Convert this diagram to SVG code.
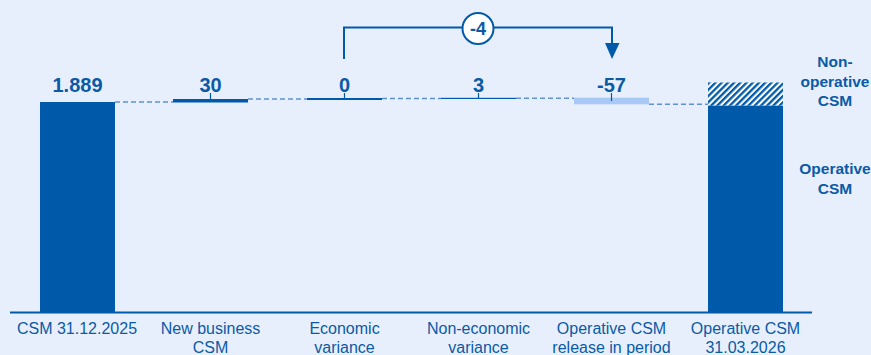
<svg xmlns="http://www.w3.org/2000/svg" width="871" height="355" viewBox="0 0 871 355">
<defs>
<pattern id="hatch" patternUnits="userSpaceOnUse" width="4.4" height="4.4" patternTransform="rotate(45)">
<rect width="4.4" height="4.4" fill="#ffffff"/>
<rect width="2.3" height="4.4" fill="#005AA9"/>
</pattern>
<style>
.bar{fill:#005AA9}
.val{font-family:"Liberation Sans",Arial,sans-serif;font-weight:bold;font-size:20px;fill:#0A5AA6;text-anchor:middle}
.lbl{font-family:"Liberation Sans",Arial,sans-serif;font-size:16px;fill:#0A5AA6;text-anchor:middle}
.side{font-family:"Liberation Sans",Arial,sans-serif;font-weight:bold;font-size:15.5px;fill:#0A5AA6;text-anchor:middle}
.dash{stroke:#5F92D0;stroke-width:1.6;stroke-dasharray:5,3;fill:none}
.tick{stroke:#005AA9;stroke-width:1.2}
.conn{stroke:#005AA9;stroke-width:2;fill:none}
</style>
</defs>
<rect width="871" height="355" fill="#E8EFFC"/>
<g id="connectors">
<line class="dash" x1="115" y1="102" x2="173" y2="102"/>
<line class="dash" x1="248" y1="99" x2="307" y2="99"/>
<line class="dash" x1="382" y1="98.5" x2="441" y2="98.5"/>
<line class="dash" x1="516" y1="98.3" x2="574" y2="98.3"/>
<line class="dash" x1="649" y1="104.3" x2="708" y2="104.3"/>
<polyline class="conn" points="344,59 344,27.5 612,27.5 612,44"/>
<polygon points="605,43 619.5,43 612,59" fill="#005AA9"/>
</g>
<g id="axis">
<line x1="10" y1="312.5" x2="812" y2="312.5" stroke="#005AA9" stroke-width="2"/>
</g>
<g id="bar-csm-2025">
<rect class="bar" x="40" y="102" width="75" height="210"/>
<text class="val" x="77.5" y="91.5">1.889</text>
<text class="lbl" x="77" y="334">CSM 31.12.2025</text>
</g>
<g id="bar-new-business">
<rect class="bar" x="173" y="99" width="75" height="3.5"/>
<line class="tick" x1="210.5" y1="93" x2="210.5" y2="99"/>
<text class="val" x="210.5" y="91.5">30</text>
<text class="lbl" x="210.5" y="334">New business</text>
<text class="lbl" x="210.5" y="353">CSM</text>
</g>
<g id="bar-economic">
<rect class="bar" x="307" y="98" width="75" height="2"/>
<line class="tick" x1="344.5" y1="93" x2="344.5" y2="98"/>
<text class="val" x="344.5" y="91.5">0</text>
<text class="lbl" x="344.5" y="334">Economic</text>
<text class="lbl" x="344.5" y="353">variance</text>
</g>
<g id="bar-non-economic">
<rect class="bar" x="441" y="97.8" width="75" height="1.2"/>
<line class="tick" x1="478.5" y1="93" x2="478.5" y2="98"/>
<text class="val" x="478.5" y="91.5">3</text>
<text class="lbl" x="478.5" y="334">Non-economic</text>
<text class="lbl" x="478.5" y="353">variance</text>
</g>
<g id="bar-release">
<rect x="574" y="97.7" width="75" height="6.6" fill="#A8C8F5"/>
<line class="tick" x1="611.5" y1="93" x2="611.5" y2="101"/>
<text class="val" x="611.5" y="91.5">-57</text>
<text class="lbl" x="611.5" y="334">Operative CSM</text>
<text class="lbl" x="611.5" y="353">release in period</text>
</g>
<g id="bar-csm-2026">
<rect x="708" y="82.5" width="75" height="23.2" fill="url(#hatch)"/>
<rect class="bar" x="708" y="105.7" width="75" height="206.3"/>
<text class="lbl" x="745.5" y="334">Operative CSM</text>
<text class="lbl" x="745.5" y="353">31.03.2026</text>
</g>
<g id="badge">
<circle cx="478" cy="28.5" r="15.5" fill="#ffffff" stroke="#005AA9" stroke-width="2"/>
<text class="val" x="478" y="35" style="font-size:18px">-4</text>
</g>
<g id="legend">
<text class="side" x="835" y="67">Non-</text>
<text class="side" x="835" y="86.5">operative</text>
<text class="side" x="835" y="106">CSM</text>
<text class="side" x="835" y="174">Operative</text>
<text class="side" x="835" y="193.5">CSM</text>
</g>
</svg>
